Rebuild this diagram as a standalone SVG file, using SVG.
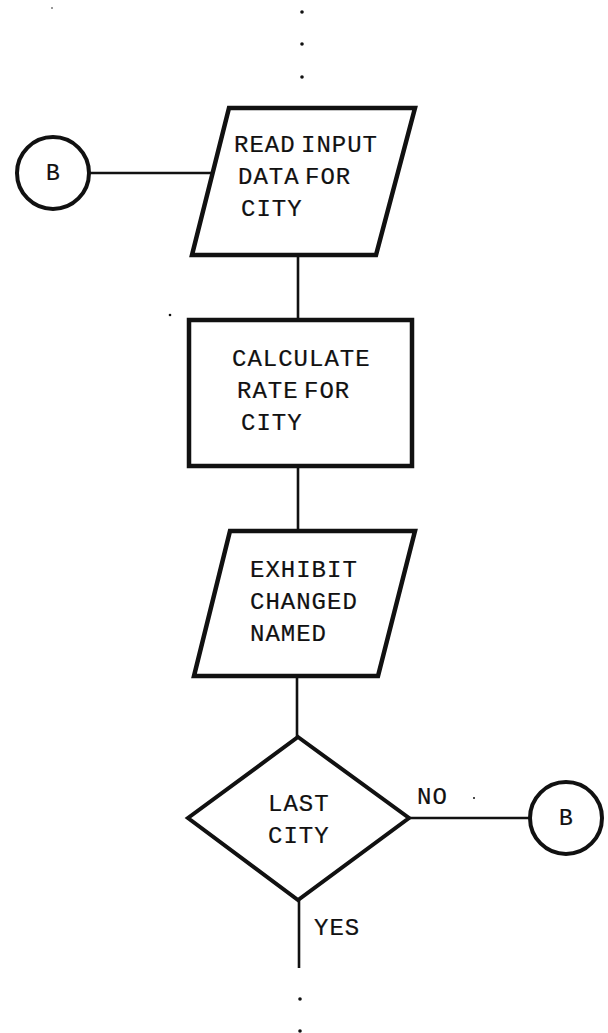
<svg xmlns="http://www.w3.org/2000/svg" width="608" height="1033" viewBox="0 0 608 1033">
  <style>
    .shape { fill: #ffffff; stroke: #111111; stroke-width: 4.5; stroke-linejoin: miter; }
    .conn { fill: none; stroke: #111111; stroke-width: 2.6; }
    .dot { fill: #111111; }
    .label { font-family: "Liberation Mono", "Courier New", monospace; font-size: 24px; letter-spacing: 1px; fill: #111111; stroke: #111111; stroke-width: 0.2; }
    .tight { word-spacing: -10px; }
    .conn-label { font-family: "Liberation Mono", "Courier New", monospace; font-size: 23px; fill: #111111; stroke: #111111; stroke-width: 0.2; text-anchor: middle; }
  </style>

  <rect width="608" height="1033" fill="#ffffff"/>

  <!-- continuation dots above and below the flow -->
  <g id="continuation">
    <circle class="dot" cx="302" cy="12" r="1.8"/>
    <circle class="dot" cx="302" cy="44" r="1.8"/>
    <circle class="dot" cx="302" cy="77" r="1.8"/>
    <circle class="dot" cx="300" cy="999" r="1.8"/>
    <circle class="dot" cx="300" cy="1031" r="1.8"/>
    <circle cx="52" cy="8" r="1" fill="#777777"/>
    <circle class="dot" cx="170" cy="315" r="1.3"/>
    <circle class="dot" cx="474" cy="798" r="1"/>
  </g>

  <!-- connectors -->
  <g id="connectors">
    <line class="conn" x1="89" y1="173" x2="213" y2="173"/>
    <line class="conn" x1="298" y1="255" x2="298" y2="320"/>
    <line class="conn" x1="298" y1="466" x2="298" y2="531"/>
    <line class="conn" x1="297" y1="676" x2="297" y2="737"/>
    <line class="conn" x1="409" y1="818" x2="530" y2="818"/>
    <line class="conn" x1="299" y1="900" x2="299" y2="968"/>
    <text class="label" x="417" y="804">NO</text>
    <text class="label" x="314" y="935">YES</text>
  </g>

  <!-- off-page connector B (entry) -->
  <g id="connector-b-in">
    <circle class="shape" cx="53" cy="173" r="36" style="stroke-width:4"/>
    <text class="conn-label" x="53" y="180">B</text>
  </g>

  <!-- input: read data (word gaps are set tighter than a full space) -->
  <g id="read-input">
    <polygon class="shape" points="229,108 415,108 376,255 192,255"/>
    <text class="label tight" x="234" y="152">READ INPUT</text>
    <text class="label tight" x="238" y="184">DATA FOR</text>
    <text class="label" x="241" y="216">CITY</text>
  </g>

  <!-- process: calculate rate -->
  <g id="calculate-rate">
    <rect class="shape" x="189" y="320" width="223" height="146"/>
    <text class="label" x="232" y="366">CALCULATE</text>
    <text class="label tight" x="237" y="398">RATE FOR</text>
    <text class="label" x="241" y="430">CITY</text>
  </g>

  <!-- output: exhibit -->
  <g id="exhibit">
    <polygon class="shape" points="230,531 415,531 378,676 194,676"/>
    <text class="label" x="250" y="577">EXHIBIT</text>
    <text class="label" x="250" y="609">CHANGED</text>
    <text class="label" x="250" y="641">NAMED</text>
  </g>

  <!-- decision: last city -->
  <g id="last-city">
    <polygon class="shape" points="298,737 409,818 298,900 188,818" style="stroke-width:4"/>
    <text class="label" x="268" y="811">LAST</text>
    <text class="label" x="268" y="843">CITY</text>
  </g>

  <!-- off-page connector B (exit) -->
  <g id="connector-b-out">
    <circle class="shape" cx="566" cy="818" r="36" style="stroke-width:4"/>
    <text class="conn-label" x="566" y="825">B</text>
  </g>
</svg>
